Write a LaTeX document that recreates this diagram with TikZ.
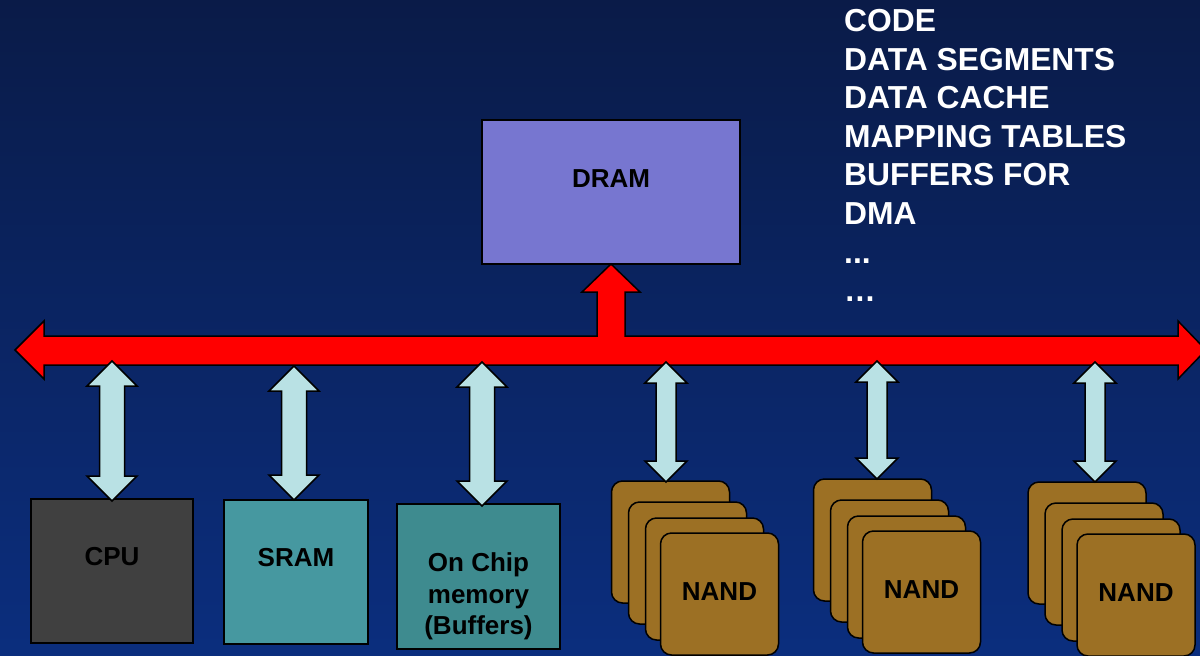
\documentclass[tikz,border=0pt]{standalone}
\usepackage{fontspec}
\setmainfont{Liberation Sans}
\usetikzlibrary{calc}

\definecolor{bgtop}{RGB}{10,27,72}
\definecolor{bgbot}{RGB}{11,46,126}
\definecolor{busred}{RGB}{255,0,0}
\definecolor{linkfill}{RGB}{185,225,228}
\definecolor{cpufill}{RGB}{64,64,64}
\definecolor{sramfill}{RGB}{70,152,160}
\definecolor{ocmfill}{RGB}{62,139,143}
\definecolor{dramfill}{RGB}{119,118,208}
\definecolor{nandfill}{RGB}{156,112,36}

\tikzset{
  box/.style={draw=black, line width=1.5pt, inner sep=0pt, outer sep=0pt, anchor=north west},
  boxtext/.style={font=\bfseries\fontsize{26}{31.5}\selectfont, align=center, text=black},
  card/.style={box, fill=nandfill, rounded corners=11pt, minimum width=118pt, minimum height=122pt},
  link/.style={draw=black, line width=1.5pt, fill=linkfill},
  bus/.style={draw=black, line width=1.5pt, fill=busred},
  note/.style={text=white, font=\bfseries\fontsize{31.8}{38.6}\selectfont, align=left, inner sep=0pt, anchor=north west}
}

% vertical two-headed block arrow between two named points
% #1 upper tip, #2 lower tip, #3 shaft half-width, #4 head half-width, #5 head length
\newcommand{\linkarrow}[5]{%
  \draw[link] (#1) -- ($(#1)+(#4,#5)$) -- ($(#1)+(#3,#5)$) -- ($(#2)+(#3,-#5)$)
    -- ($(#2)+(#4,-#5)$) -- (#2) -- ($(#2)+(-#4,-#5)$) -- ($(#2)+(-#3,-#5)$)
    -- ($(#1)+(-#3,#5)$) -- ($(#1)+(-#4,#5)$) -- cycle;}

% a stack of four flash dies, the front one labelled
\newcommand{\nandstack}[3]{%
  \node[card] (#1a) at (#2,#3) {};
  \node[card] (#1b) at ($(#1a.north west)+(17,21)$) {};
  \node[card] (#1c) at ($(#1a.north west)+(34,37)$) {};
  \node[card, label={[boxtext,yshift=2pt]center:NAND}] (#1d) at ($(#1a.north west)+(49,52)$) {};}

\begin{document}
\begin{tikzpicture}[x=1pt, y=-1pt]
  \useasboundingbox (0,0) rectangle (1200,656);
  \clip (0,0) rectangle (1200,656);
  \shade[top color=bgtop, bottom color=bgbot] (0,0) rectangle (1200,656);

  % memory list
  \node[note] (list) at (844,9) {CODE\\DATA SEGMENTS\\DATA CACHE\\MAPPING TABLES\\BUFFERS FOR\\DMA\\...\\…};

  % DRAM
  \node[box, fill=dramfill, minimum width=258pt, minimum height=144pt,
        label={[boxtext,yshift=13pt]center:DRAM}] (dram) at (482,120) {};

  % system bus with branch up to the DRAM
  \draw[bus] (15,350) -- (44,321) -- (44,336)
    -- ($(dram.south)+(-14,72)$) -- ($(dram.south)+(-14,28)$) -- ($(dram.south)+(-29,28)$)
    -- (dram.south)
    -- ($(dram.south)+(29,28)$) -- ($(dram.south)+(14,28)$) -- ($(dram.south)+(14,72)$)
    -- (1178,336) -- (1178,321) -- (1206,350) -- (1178,379) -- (1178,365)
    -- (44,365) -- (44,379) -- cycle;

  % bus clients
  \node[box, fill=cpufill, minimum width=162pt, minimum height=144pt,
        label={[boxtext,yshift=14pt]center:CPU}] (cpu) at (31,499) {};
  \node[box, fill=sramfill, minimum width=144pt, minimum height=144pt,
        label={[boxtext,yshift=14pt]center:SRAM}] (sram) at (224,500) {};
  \node[box, fill=ocmfill, minimum width=163pt, minimum height=145pt,
        label={[boxtext,yshift=-20pt]center:On Chip\\memory\\(Buffers)}] (ocm) at (397,504) {};

  \nandstack{nA}{611.5}{481}
  \nandstack{nB}{813.5}{479}
  \nandstack{nC}{1028}{482}

  % links between the bus and its clients
  \coordinate (cpuT) at (112,361);
  \coordinate (sramT) at (294,366);
  \coordinate (ocmT) at (482,362);
  \coordinate (nAT) at (666,362);
  \coordinate (nBT) at (877,361);
  \coordinate (nCT) at (1095,362);
  \coordinate (cpuB) at ($(cpu.north -| cpuT)+(0,2)$);
  \coordinate (sramB) at (sram.north -| sramT);
  \coordinate (ocmB) at ($(ocm.north -| ocmT)+(0,2)$);
  \coordinate (nAB) at ($(nAa.north -| nAT)+(0,1)$);
  \coordinate (nBB) at (nBa.north -| nBT);
  \coordinate (nCB) at (nCa.north -| nCT);

  \linkarrow{cpuT}{cpuB}{12.5}{25}{25}
  \linkarrow{sramT}{sramB}{12.5}{25}{25}
  \linkarrow{ocmT}{ocmB}{12.5}{25}{25}
  \linkarrow{nAT}{nAB}{10}{21}{21}
  \linkarrow{nBT}{nBB}{10}{21}{21}
  \linkarrow{nCT}{nCB}{10}{21}{21}
\end{tikzpicture}
\end{document}
